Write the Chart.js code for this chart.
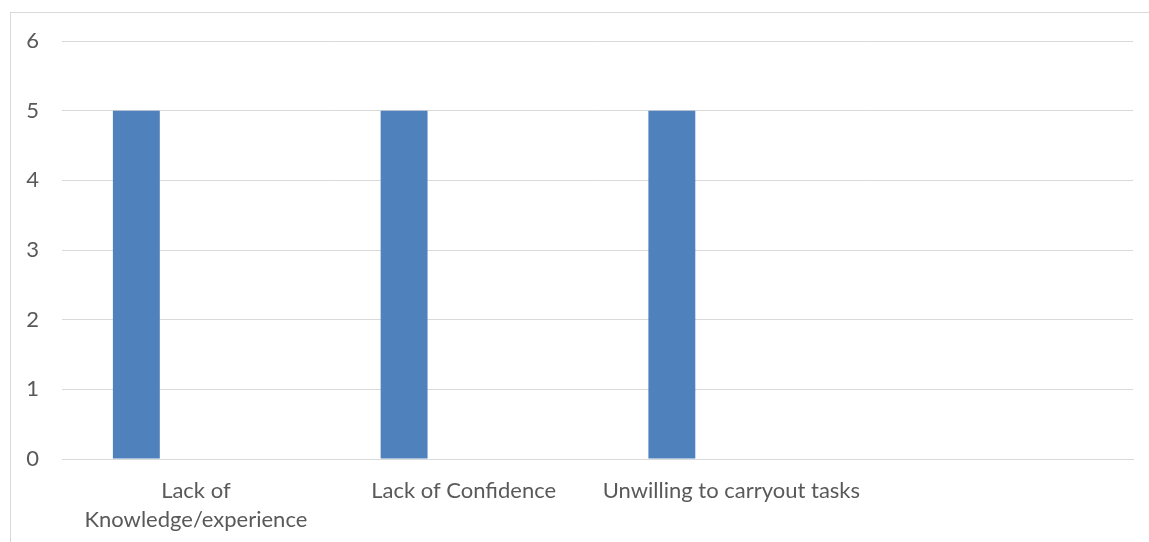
<!DOCTYPE html>
<html>
<head>
<meta charset="utf-8">
<script src="https://cdn.jsdelivr.net/npm/chart.js@4"></script>
<style>
  html, body { margin: 0; padding: 0; background: #fff; overflow: hidden; }
  #frame { position: absolute; left: 10px; top: 12px; width: 1200px; height: 600px; border: 1px solid #d9d9d9; }
  #chart { position: absolute; left: 0; top: 0; }
</style>
</head>
<body>
<div id="frame"></div>
<canvas id="chart" width="1149" height="542"></canvas>
<script>
const categories = [['Lack of', 'Knowledge/experience'], 'Lack of Confidence', 'Unwilling to carryout tasks', ''];
const series1 = [5, 5, 5, null];
const series2 = [null, null, null, null];
const series3 = [null, null, null, null];
const yTicks = [0, 1, 2, 3, 4, 5, 6];

const fontFamily = 'Lato, "Noto Sans", sans-serif';
const textColor = '#595959';
const gridColor = '#d9d9d9';

const chartElement = document.getElementById('chart');

const chart = new Chart(chartElement, {
    type: 'bar',
    data: {
        labels: categories,
        datasets: [
            { label: 'Series1', data: series1, backgroundColor: '#4f81bd' },
            { label: 'Series2', data: series2, backgroundColor: '#c0504d' },
            { label: 'Series3', data: series3, backgroundColor: '#9bbb59' }
        ]
    },
    options: {
        responsive: false,
        animation: { duration: 0 },
        layout: { padding: { left: 0, right: 16, top: 41, bottom: 0 } },
        plugins: {
            legend: { display: false },
            tooltip: { enabled: false }
        },
        datasets: {
            bar: { categoryPercentage: 0.667, barPercentage: 0.788 }
        },
        scales: {
            x: {
                grid: { display: false, drawTicks: false },
                border: { display: true, color: gridColor, width: 1 },
                ticks: {
                    color: textColor,
                    font: { family: fontFamily, size: 22, lineHeight: 1.33 },
                    padding: 17,
                    maxRotation: 0,
                    minRotation: 0,
                    autoSkip: false
                },
                afterFit: (scale) => { scale.height = 83; }
            },
            y: {
                min: yTicks[0],
                max: yTicks[yTicks.length - 1],
                afterBuildTicks: (scale) => { scale.ticks = yTicks.map(v => ({ value: v })); },
                grid: { color: gridColor, lineWidth: 1, drawTicks: false },
                border: { display: false },
                ticks: {
                    color: textColor,
                    font: { family: fontFamily, size: 22 },
                    padding: 23
                },
                afterFit: (scale) => { scale.width = 62; }
            }
        }
    }
});
</script>
</body>
</html>
